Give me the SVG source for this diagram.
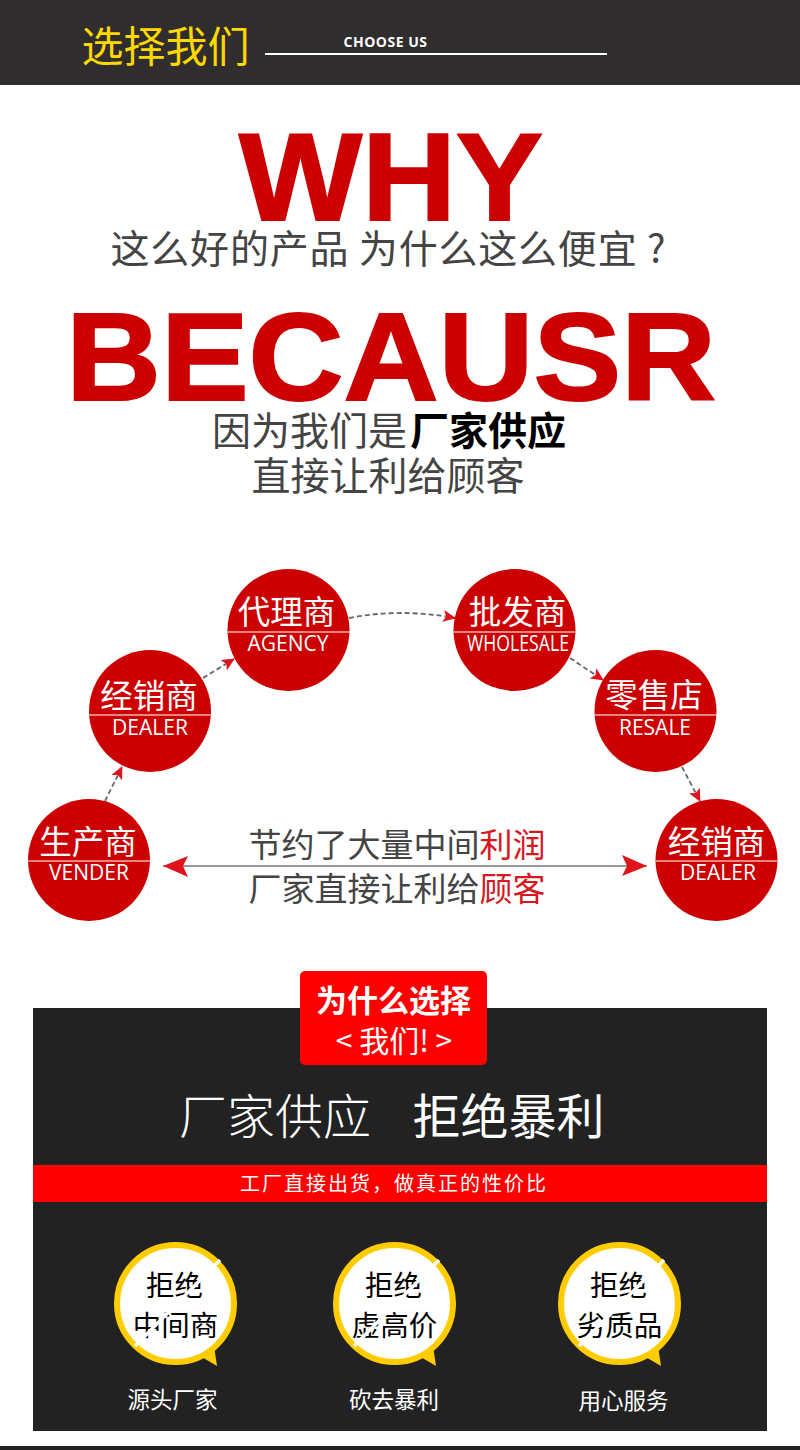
<svg xmlns="http://www.w3.org/2000/svg" width="800" height="1450" viewBox="0 0 800 1450">
<style>
text{font-family:"Noto Sans CJK SC","Noto Sans",sans-serif;text-anchor:middle}
.big{font-family:"Liberation Sans",Arial,sans-serif;font-weight:700;fill:#cc0000;stroke:#cc0000;stroke-width:2}
.g{fill:#444;font-size:39px}
.nc{fill:#cc0000}
.nl{stroke:#f0b0b0;stroke-width:1.5}
.zh{fill:#fff;font-size:32.5px}
.en{fill:#fff;font-size:21px;font-family:"Open Sans","Noto Sans",sans-serif}
.mid{fill:#444;font-size:33px}
.ring{fill:#fff;stroke:#ffcc00;stroke-width:6}
.tail{fill:#ffcc00}
.b{fill:#000;font-size:28.500px}
.cut{stroke:#fff;stroke-width:3.5}
.cap{fill:#fff;font-size:22.500px}
.dash{fill:none;stroke:#666;stroke-width:1.8;stroke-dasharray:5 3}
</style>
<defs>
<marker id="ah" markerWidth="14" markerHeight="12" refX="12" refY="6" orient="auto" markerUnits="userSpaceOnUse"><path d="M0 0L13 6L0 12L3 6Z" fill="#e0141c"/></marker>
<marker id="big" markerWidth="26" markerHeight="22" refX="25" refY="11" orient="auto-start-reverse" markerUnits="userSpaceOnUse"><path d="M0 0L25 11L0 21L5 11Z" fill="#e0141c"/></marker>
</defs>
<rect width="800" height="1450" fill="#fff"/>
<g id="header">
<rect width="800" height="85" fill="#302d2e"/>
<text x="165.500" y="62" font-size="42" fill="#ffd800">选择我们</text>
<text x="385.500" y="47" font-size="14" font-weight="700" fill="#fff" style="font-family:'Open Sans',sans-serif" letter-spacing=".5">CHOOSE US</text>
<rect x="265" y="53" width="342" height="2" fill="#fff"/>
</g>
<g id="why">
<text class="big" x="391" y="220" font-size="124" textLength="304" lengthAdjust="spacingAndGlyphs">WHY</text>
<text class="g" x="388" y="263" textLength="555">这么好的产品 为什么这么便宜 ?</text>
<text class="big" x="391" y="400" font-size="124" textLength="650" lengthAdjust="spacingAndGlyphs">BECAUSR</text>
<text class="g" x="389" y="445">因为我们是<tspan dx="3" fill="#000" font-weight="700">厂家供应</tspan></text>
<text class="g" x="388" y="490">直接让利给顾客</text>
</g>
<g id="connectors">
<path class="dash" d="M105 801L122 767" marker-end="url(#ah)"/>
<path class="dash" d="M203 678L234 659" marker-end="url(#ah)"/>
<path class="dash" d="M349 618Q400 608 455 618" marker-end="url(#ah)"/>
<path class="dash" d="M570 658L603 680" marker-end="url(#ah)"/>
<path class="dash" d="M682 767L700 801" marker-end="url(#ah)"/>
<path d="M163 866H647" stroke="#999" stroke-width="2" fill="none" marker-start="url(#big)" marker-end="url(#big)"/>
</g>
<g id="n-vender"><circle class="nc" cx="89" cy="860" r="61"/><path class="nl" d="M28 861H150"/><text class="zh" x="88" y="854">生产商</text><text class="en" x="89" y="880">VENDER</text></g>
<g id="n-dealer"><circle class="nc" cx="150" cy="711" r="61"/><path class="nl" d="M89 715H211"/><text class="zh" x="149" y="708">经销商</text><text class="en" x="150" y="735">DEALER</text></g>
<g id="n-agency"><circle class="nc" cx="288.500" cy="630" r="61"/><path class="nl" d="M228 632H349"/><text class="zh" x="286.500" y="624">代理商</text><text class="en" x="288" y="651">AGENCY</text></g>
<g id="n-wholesale"><circle class="nc" cx="514.500" cy="630" r="61"/><path class="nl" d="M454 632H575"/><text class="zh" x="517.500" y="624">批发商</text><text class="en" x="518" y="651" textLength="102" lengthAdjust="spacingAndGlyphs">WHOLESALE</text></g>
<g id="n-resale"><circle class="nc" cx="655.500" cy="711" r="61"/><path class="nl" d="M595 715H716"/><text class="zh" x="654" y="707">零售店</text><text class="en" x="655" y="735">RESALE</text></g>
<g id="n-dealer2"><circle class="nc" cx="716.500" cy="860" r="61"/><path class="nl" d="M656 861H777"/><text class="zh" x="716.500" y="854">经销商</text><text class="en" x="718" y="880">DEALER</text></g>
<g id="saving">
<text class="mid" x="397" y="857">节约了大量中间<tspan fill="#d6181f">利润</tspan></text>
<text class="mid" x="397" y="901">厂家直接让利给<tspan fill="#d6181f">顾客</tspan></text>
</g>
<g id="panel">
<rect x="33" y="1008" width="734" height="423" fill="#222"/>
<rect x="300" y="971" width="187" height="94" rx="5" fill="#f00"/>
<text x="393.500" y="1012" font-size="31" font-weight="700" fill="#fff">为什么选择</text>
<text x="394" y="1052" font-size="30" fill="#fff">&lt; 我们! &gt;</text>
<text x="275" y="1134" font-size="48" font-weight="300" fill="#fff">厂家供应</text>
<text x="508.500" y="1134" font-size="48" fill="#fff">拒绝暴利</text>
<rect x="33" y="1165" width="734" height="37" fill="#f00"/>
<text x="393" y="1191" font-size="20" fill="#fff" textLength="306">工厂直接出货，做真正的性价比</text>
</g>
<g id="bubble-1">
<path class="tail" d="M200 1356L217 1366L214 1346Z"/><circle class="ring" cx="175.500" cy="1303.500" r="58.500"/>
<text class="b" x="174.500" y="1296">拒绝</text><text class="b" x="175.500" y="1336">中间商</text>
<path class="cut" d="M220 1260L135 1346"/>
<text class="cap" x="172.500" y="1408">源头厂家</text>
</g>
<g id="bubble-2">
<path class="tail" d="M419 1356L436 1366L433 1346Z"/><circle class="ring" cx="394.500" cy="1303.500" r="58.500"/>
<text class="b" x="393.500" y="1296">拒绝</text><text class="b" x="394.500" y="1336">虚高价</text>
<path class="cut" d="M439 1260L354 1346"/>
<text class="cap" x="394" y="1408">砍去暴利</text>
</g>
<g id="bubble-3">
<path class="tail" d="M644 1356L661 1366L658 1346Z"/><circle class="ring" cx="619.500" cy="1303.500" r="58.500"/>
<text class="b" x="618.500" y="1296">拒绝</text><text class="b" x="619.500" y="1336">劣质品</text>
<path class="cut" d="M664 1260L579 1346"/>
<text class="cap" x="623.500" y="1409">用心服务</text>
</g>
<rect id="footer" y="1446" width="800" height="4" fill="#222"/>
</svg>
